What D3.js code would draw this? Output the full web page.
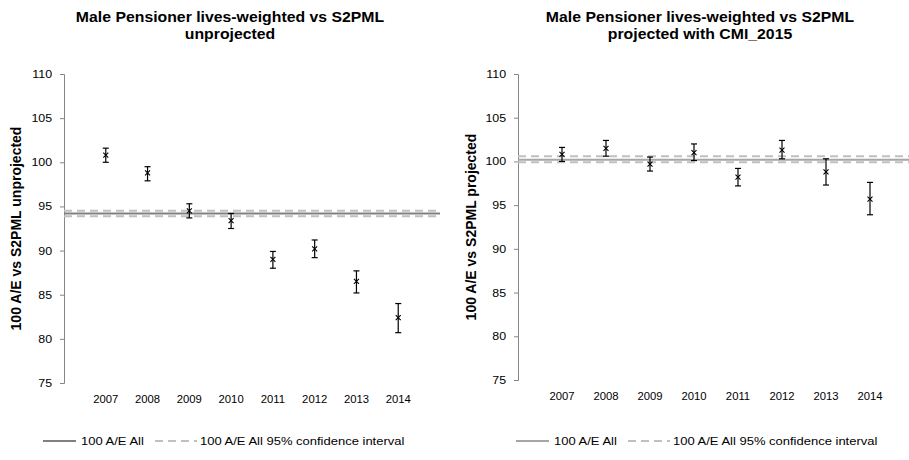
<!DOCTYPE html>
<html>
<head>
<meta charset="utf-8">
<script src="https://cdn.jsdelivr.net/npm/d3@7"></script>
<style>
  body { margin: 0; background: #fff; }
  svg { display: block; font-family: "Liberation Sans", Arial, sans-serif; }
</style>
</head>
<body>
<div id="graph_draw"></div>
<script>
// data
var years = [2007, 2008, 2009, 2010, 2011, 2012, 2013, 2014];
var yTicks = [75, 80, 85, 90, 95, 100, 105, 110];

// unprojected
var aeUnproj     = [100.8, 98.8, 94.5, 93.4, 89.0, 90.2, 86.5, 82.4];
var aeUnprojLow  = [100.0, 97.9, 93.7, 92.5, 88.0, 89.2, 85.2, 80.7];
var aeUnprojHigh = [101.6, 99.5, 95.3, 94.2, 89.9, 91.2, 87.7, 84.0];
var allUnproj    = 94.2;
var allUnprojCI  = [93.9, 94.5];

// projected with CMI_2015
var aeProj     = [100.8, 101.5, 99.7, 101.0, 98.2, 101.3, 98.8, 95.7];
var aeProjLow  = [100.0, 100.6, 98.9, 100.1, 97.2, 100.3, 97.3, 93.9];
var aeProjHigh = [101.6, 102.4, 100.5, 102.0, 99.2, 102.4, 100.3, 97.6];
var allProj    = 100.2;
var allProjCI  = [99.9, 100.6];

var legendLabels = ["100 A/E All", "100 A/E All 95% confidence interval"];

var svg = d3.select("#graph_draw").append("svg")
    .attr("width", 909)
    .attr("height", 460);

var stretch = "scale(1.13,1)"; // text in the picture is a bit wide

function drawPanel(p) {
    var x = d3.scaleLinear().domain([2006, 2015]).range([p.left, p.right]);
    var y = d3.scaleLinear().domain([75, 110]).range([p.bottom, p.top]);

    var g = svg.append("g");

    // title, two lines
    p.title.forEach(function(t, i) {
        g.append("text")
            .attr("transform", "translate(" + p.titleX + "," + (22 + i * 17) + ") " + stretch)
            .attr("text-anchor", "middle")
            .style("font-size", "14px")
            .style("font-weight", "bold")
            .text(t);
    });

    // y axis
    var yAxis = g.append("g")
        .attr("transform", "translate(" + p.left + ",0)")
        .call(d3.axisLeft(y).tickValues(yTicks).tickSize(4).tickPadding(6.5));
    yAxis.select(".domain").attr("stroke", "#868686");
    yAxis.selectAll(".tick line").attr("stroke", "#868686");
    yAxis.selectAll(".tick text")
        .attr("transform", stretch)
        .style("font-size", "11px")
        .attr("fill", "#000");

    // y axis title
    g.append("text")
        .attr("transform", "translate(" + p.yTitleX + "," + ((p.top + p.bottom) / 2) + ") rotate(-90)")
        .attr("text-anchor", "middle")
        .style("font-size", "14px")
        .style("font-weight", "bold")
        .text(p.yTitle);

    // year labels, no axis line
    g.selectAll(".yr").data(years).enter().append("text")
        .attr("transform", function(d) { return "translate(" + x(d) + "," + (p.bottom + 20) + ") " + stretch; })
        .attr("text-anchor", "middle")
        .style("font-size", "10px")
        .text(function(d) { return d; });

    // confidence interval lines (dashed) and the overall line
    p.ci.forEach(function(v) {
        g.append("line")
            .attr("x1", x(2006)).attr("x2", x(2015))
            .attr("y1", y(v)).attr("y2", y(v))
            .attr("stroke", "#c0c0c0")
            .attr("stroke-width", 2)
            .attr("stroke-dasharray", "8,5");
    });
    g.append("line")
        .attr("x1", x(2006)).attr("x2", x(2015))
        .attr("y1", y(p.all)).attr("y2", y(p.all))
        .attr("stroke", p.allColor)
        .attr("stroke-width", 2);

    // error bars
    var bars = g.selectAll(".err").data(years).enter().append("g");
    bars.append("line")
        .attr("x1", function(d) { return x(d); })
        .attr("x2", function(d) { return x(d); })
        .attr("y1", function(d, i) { return y(p.low[i]); })
        .attr("y2", function(d, i) { return y(p.high[i]); })
        .attr("stroke", "#000").attr("stroke-width", 1.2);
    [p.low, p.high].forEach(function(arr) {
        bars.append("line")
            .attr("x1", function(d) { return x(d) - 3; })
            .attr("x2", function(d) { return x(d) + 3; })
            .attr("y1", function(d, i) { return y(arr[i]); })
            .attr("y2", function(d, i) { return y(arr[i]); })
            .attr("stroke", "#000").attr("stroke-width", 1.2);
    });

    // x markers
    var cross = d3.symbol().type(d3.symbolX).size(18);
    g.selectAll(".pt").data(years).enter().append("path")
        .attr("transform", function(d, i) { return "translate(" + x(d) + "," + y(p.values[i]) + ")"; })
        .attr("d", cross)
        .attr("fill", "none")
        .attr("stroke", "#000")
        .attr("stroke-width", 1.1);

    // legend
    var lg = g.append("g").attr("transform", "translate(" + p.legendX + ",441)");
    lg.append("line").attr("x1", 0).attr("x2", 33).attr("y1", 0).attr("y2", 0)
        .attr("stroke", p.allColor).attr("stroke-width", 2);
    lg.append("text").attr("transform", "translate(38,4) " + stretch)
        .style("font-size", "11.5px").text(legendLabels[0]);
    lg.append("line").attr("x1", 112).attr("x2", 154).attr("y1", 0).attr("y2", 0)
        .attr("stroke", "#c0c0c0").attr("stroke-width", 2).attr("stroke-dasharray", "8,5");
    lg.append("text").attr("transform", "translate(157,4) " + stretch)
        .style("font-size", "11.5px").text(legendLabels[1]);
}

drawPanel({
    left: 64, right: 440, top: 74, bottom: 383,
    titleX: 230, title: ["Male Pensioner lives-weighted vs S2PML", "unprojected"],
    yTitleX: 21, yTitle: "100 A/E vs S2PML unprojected",
    values: aeUnproj, low: aeUnprojLow, high: aeUnprojHigh,
    all: allUnproj, ci: allUnprojCI, allColor: "#808080",
    legendX: 43
});

drawPanel({
    left: 518, right: 914, top: 74, bottom: 380,
    titleX: 700, title: ["Male Pensioner lives-weighted vs S2PML", "projected with CMI_2015"],
    yTitleX: 476, yTitle: "100 A/E vs S2PML projected",
    values: aeProj, low: aeProjLow, high: aeProjHigh,
    all: allProj, ci: allProjCI, allColor: "#a6a6a6",
    legendX: 516
});
</script>
</body>
</html>
